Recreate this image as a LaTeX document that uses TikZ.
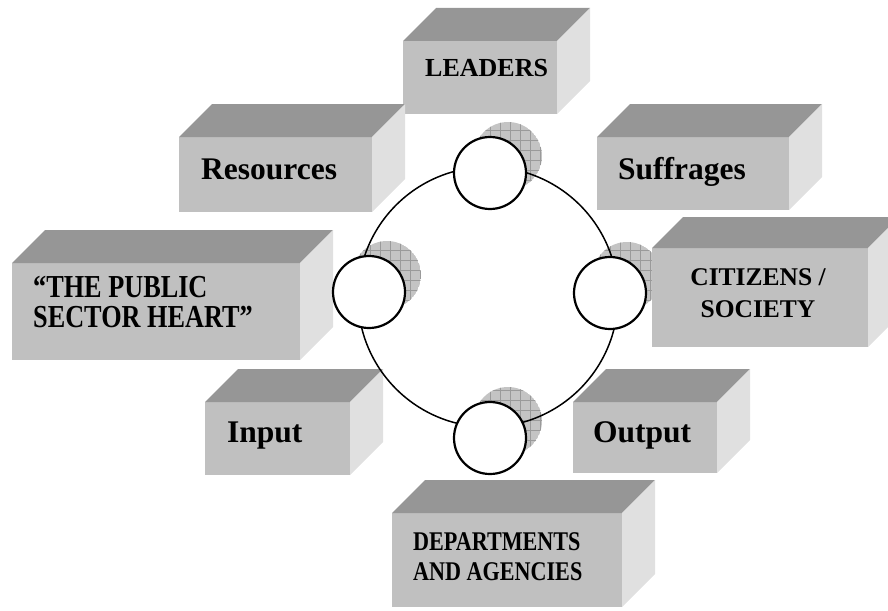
\documentclass[tikz,border=0pt]{standalone}
\usepackage{fontspec}
\setmainfont{Liberation Serif}
\newfontfamily\narrowserif{Liberation Serif}[FakeStretch=0.82]

\definecolor{frontgray}{HTML}{C0C0C0}
\definecolor{topgray}{HTML}{969696}
\definecolor{sidegray}{HTML}{E0E0E0}
\definecolor{shadegray}{HTML}{C4C4C4}
\definecolor{meshgray}{HTML}{9A9A9A}

\tikzset{
  frontface/.style={fill=frontgray},
  topface/.style={fill=topgray},
  sideface/.style={fill=sidegray},
  hub/.style={circle, draw=black, fill=white, line width=2.2pt,
    minimum size=72pt, inner sep=0pt},
  ring/.style={draw=black, line width=1.5pt},
  label/.style={inner sep=0pt, font=\bfseries}
}

% front face corners (#2,#3)-(#4,#5), depth #1
\newcommand{\solidbox}[5][33]{
  \fill[frontface] (#2,#3) rectangle (#4,#5);
  \fill[topface] (#2,#3) -- ({#2+#1},{#3-#1}) -- ({#4+#1},{#3-#1}) -- (#4,#3) -- cycle;
  \fill[sideface] (#4,#3) -- ({#4+#1},{#3-#1}) -- ({#4+#1},{#5-#1}) -- (#4,#5) -- cycle;
}

% hatched disc behind a hub
\newcommand{\hubshade}[2]{
  \begin{scope}
    \clip (#1,#2) circle (34);
    \fill[shadegray] (#1,#2) circle (34);
    \draw[meshgray, line width=0.5pt, step=10pt] ({#1-40},{#2-40}) grid ({#1+40},{#2+40});
  \end{scope}
}

\begin{document}
\begin{tikzpicture}[x=1pt, y=-1pt]
  \useasboundingbox (0,0) rectangle (888,610);

  % shadows of the four hubs
  \hubshade{508}{156}
  \hubshade{387}{275}
  \hubshade{627}{276}
  \hubshade{508}{421}

  % blocks
  \solidbox{403}{41}{557}{114}
  \solidbox{179}{137}{372}{212}
  \solidbox{597}{137}{789}{210}
  \solidbox{12}{263}{300}{360}
  \solidbox[31]{652}{248}{868}{347}
  \solidbox{205}{402}{350}{475}
  \solidbox{573}{402}{717}{473}
  \solidbox{392}{513}{622}{607}

  % the circuit
  \draw[ring] (488,297) circle (130);
  \node[hub] (top) at (490,173) {};
  \node[hub] (left) at (369,292) {};
  \node[hub] (right) at (610,293) {};
  \node[hub] (bottom) at (490,438) {};

  % texts (multi-line ones sit on the baseline of their last line)
  \node[label, anchor=base west, font=\bfseries\fontsize{26}{30}\selectfont] (leaders) at (425,77) {LEADERS};
  \node[label, anchor=base west, font=\bfseries\fontsize{31.5}{36}\selectfont] (resources) at (201,179) {Resources};
  \node[label, anchor=base west, font=\bfseries\fontsize{31.5}{36}\selectfont] (suffrages) at (618,179) {Suffrages};
  \node[label, anchor=base west, align=left, font=\narrowserif\bfseries\fontsize{32}{30}\selectfont] (heart) at (33,327) {“THE PUBLIC\\SECTOR HEART”};
  \node[label, anchor=base, align=center, font=\bfseries\fontsize{25.5}{32}\selectfont] (citizens) at (758,317) {CITIZENS /\\SOCIETY};
  \node[label, anchor=base west, font=\bfseries\fontsize{31.5}{36}\selectfont] (input) at (227,442) {Input};
  \node[label, anchor=base west, font=\bfseries\fontsize{31.5}{36}\selectfont] (output) at (593,442) {Output};
  \node[label, anchor=base west, align=left, font=\narrowserif\bfseries\fontsize{27}{30}\selectfont] (departments) at (413,580) {DEPARTMENTS\\AND AGENCIES};
\end{tikzpicture}
\end{document}
